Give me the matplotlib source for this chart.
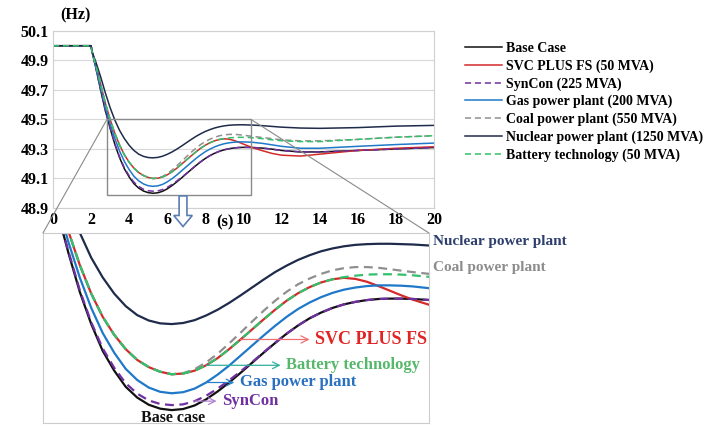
import matplotlib
matplotlib.use("Agg")
import matplotlib.pyplot as plt
from matplotlib.patches import Rectangle, FancyArrow, ConnectionPatch

plt.rcParams['font.family'] = ['Liberation Serif', 'DejaVu Serif']
plt.rcParams['font.weight'] = 'bold'

# time (s): step at 2 s, quarter-second reads through the dip, coarser afterwards
t = [0, 2, 2.05] + [2.25 + 0.25 * i for i in range(34)] + [11, 11.5, 12, 13, 14, 16, 18, 20]

# frequency (Hz)
base = [50.0, 50.0, 49.96,
        49.85, 49.70, 49.56, 49.44, 49.33, 49.24, 49.165, 49.11, 49.065, 49.035, 49.015,
        49.004, 49.00, 49.003, 49.013, 49.03, 49.052, 49.077, 49.104, 49.132, 49.16,
        49.187, 49.213, 49.236, 49.256, 49.272, 49.285, 49.295, 49.302, 49.307, 49.31,
        49.311, 49.311, 49.31,
        49.306, 49.299, 49.29, 49.28, 49.28, 49.29, 49.30, 49.31]
svc = [50.0, 50.0, 49.96,
       49.87, 49.74, 49.61, 49.50, 49.405, 49.325, 49.26, 49.21, 49.17, 49.14, 49.12,
       49.107, 49.10, 49.102, 49.11, 49.125, 49.145, 49.17, 49.197, 49.225, 49.253,
       49.28, 49.305, 49.326, 49.343, 49.356, 49.365, 49.369, 49.366, 49.358, 49.346,
       49.333, 49.32, 49.308,
       49.288, 49.27, 49.258, 49.252, 49.265, 49.29, 49.305, 49.315]
syncon = [50.0, 50.0, 49.96,
          49.85, 49.70, 49.56, 49.445, 49.335, 49.245, 49.172, 49.118, 49.075, 49.046,
          49.027, 49.017, 49.014, 49.016, 49.025, 49.04, 49.06, 49.083, 49.108, 49.134,
          49.161, 49.188, 49.213, 49.236, 49.256, 49.272, 49.285, 49.295, 49.302, 49.307,
          49.31, 49.311, 49.311, 49.31,
          49.306, 49.299, 49.29, 49.28, 49.28, 49.29, 49.30, 49.31]
gas = [50.0, 50.0, 49.96,
       49.86, 49.72, 49.585, 49.47, 49.37, 49.285, 49.215, 49.16, 49.115, 49.084, 49.063,
       49.051, 49.047, 49.05, 49.06, 49.077, 49.099, 49.124, 49.152, 49.18, 49.208,
       49.235, 49.26, 49.282, 49.30, 49.315, 49.327, 49.336, 49.342, 49.346, 49.348,
       49.348, 49.347, 49.345,
       49.338, 49.328, 49.318, 49.305, 49.305, 49.318, 49.33, 49.34]
coal = [50.0, 50.0, 49.96,
        49.87, 49.74, 49.61, 49.50, 49.405, 49.325, 49.26, 49.21, 49.17, 49.14, 49.12,
        49.107, 49.10, 49.103, 49.114, 49.133, 49.157, 49.186, 49.216, 49.247, 49.277,
        49.305, 49.33, 49.351, 49.367, 49.38, 49.39, 49.396, 49.399, 49.399, 49.397,
        49.393, 49.389, 49.385,
        49.378, 49.37, 49.362, 49.355, 49.355, 49.365, 49.38, 49.39]
nuclear = [50.0, 50.0, 49.96,
           49.89, 49.79, 49.68, 49.58, 49.495, 49.425, 49.37, 49.325, 49.29, 49.265, 49.25,
           49.242, 49.24, 49.243, 49.251, 49.264, 49.28, 49.299, 49.32, 49.342, 49.364,
           49.385, 49.403, 49.419, 49.432, 49.443, 49.451, 49.457, 49.461, 49.463, 49.464,
           49.464, 49.463, 49.462,
           49.458, 49.453, 49.448, 49.442, 49.44, 49.445, 49.455, 49.46]
battery = [50.0, 50.0, 49.96,
           49.87, 49.74, 49.61, 49.50, 49.405, 49.325, 49.26, 49.21, 49.17, 49.14, 49.12,
           49.107, 49.10, 49.102, 49.11, 49.125, 49.145, 49.17, 49.197, 49.225, 49.253,
           49.28, 49.305, 49.326, 49.343, 49.356, 49.365, 49.371, 49.375, 49.378, 49.379,
           49.379, 49.378, 49.376,
           49.37, 49.362, 49.356, 49.35, 49.35, 49.365, 49.38, 49.39]

labels = ['Base Case', 'SVC PLUS FS (50 MVA)', 'SynCon (225 MVA)', 'Gas power plant (200 MVA)',
          'Coal power plant (550 MVA)', 'Nuclear power plant (1250 MVA)', 'Battery technology (50 MVA)']
xticks = list(range(0, 21, 2))
yticks = [48.9, 49.1, 49.3, 49.5, 49.7, 49.9, 50.1]

c_base = '#111111'
c_svc = '#d42a2a'
c_syn = '#7030a0'
c_gas = '#1f78c8'
c_coal = '#8f8f8f'
c_nuc = '#1f2b4a'
c_bat = '#33c06a'


def draw(ax, lw):
    ax.plot(t, base, color=c_base, lw=lw, label=labels[0])
    ax.plot(t, svc, color=c_svc, lw=lw, label=labels[1])
    ax.plot(t, syncon, color=c_syn, lw=lw, ls=(0, (4, 2.5)), label=labels[2])
    ax.plot(t, gas, color=c_gas, lw=lw, label=labels[3])
    ax.plot(t, coal, color=c_coal, lw=lw, ls=(0, (4, 2.5)), label=labels[4])
    ax.plot(t, nuclear, color=c_nuc, lw=lw, label=labels[5])
    ax.plot(t, battery, color=c_bat, lw=lw, ls=(0, (4, 2.5)), label=labels[6])


fig = plt.figure(figsize=(7.13, 4.25), dpi=100)

# main chart
ax = fig.add_axes([0.0743, 0.5106, 0.5344, 0.4165])
draw(ax, 1.1)
ax.set_xlim(0, 20)
ax.set_ylim(48.9, 50.1)
ax.set_xticks(xticks)
ax.set_yticks(yticks)
ax.grid(axis='y', color='#d9d9d9', lw=0.8)
ax.set_axisbelow(True)
for s in ax.spines.values():
    s.set_color('#d0d0d0')
ax.tick_params(length=0, labelsize=11.5, pad=3)
ax.text(0.058, 1.09, '(Hz)', transform=ax.transAxes, fontsize=11.5, ha='center', va='center')
ax.text(0.451, -0.08, '(s)', transform=ax.transAxes, fontsize=12, ha='center', va='center')

zoom_x = (2.83, 10.4)
zoom_y = (48.99, 49.5)
ax.add_patch(Rectangle((zoom_x[0], zoom_y[0]), zoom_x[1] - zoom_x[0], zoom_y[1] - zoom_y[0],
                       fill=False, ec='#8a8a8a', lw=1.0, zorder=5))

fig.legend(loc='upper left', bbox_to_anchor=(0.645, 0.915), frameon=False,
           prop={'family': 'Liberation Serif', 'weight': 'bold', 'size': 10},
           handlelength=2.6, handletextpad=0.3, labelspacing=0.32, borderaxespad=0)

# zoomed view
axi = fig.add_axes([0.0603, 0.0047, 0.5414, 0.447])
draw(axi, 1.6)
axi.set_xlim(2.45, 10.85)
axi.set_ylim(48.964, 49.494)
axi.set_xticks([])
axi.set_yticks([])
for s in axi.spines.values():
    s.set_color('#cccccc')

for xa, xb in [(zoom_x[0], 0), (zoom_x[1], 1)]:
    con = ConnectionPatch(xyA=(xa, zoom_y[1]), coordsA=ax.transData,
                          xyB=(xb, 1), coordsB=axi.transAxes, color='#8a8a8a', lw=0.8)
    fig.add_artist(con)

fig.add_artist(FancyArrow(0.2567, 0.539, 0, -0.072, width=0.011, head_width=0.026,
                          head_length=0.026, length_includes_head=True,
                          transform=fig.transFigure, fc='white', ec='#5a7db0', lw=1.2))


# curve labels in the zoomed view, arrow starts on the curve
def tag(txt, i, series, tx, col, acol, size):
    axi.annotate(txt, xy=(t[i], series[i]), xytext=(tx, series[i]),
                 textcoords=('axes fraction', 'data'), ha='left', va='center',
                 color=col, fontsize=size, fontweight='bold',
                 arrowprops=dict(arrowstyle='<-', color=acol, lw=0.9,
                                 shrinkA=2, shrinkB=0, relpos=(0, 0.5)))


tag('SVC PLUS FS', 21, svc, 0.705, '#e02424', '#f07070', 13)
tag('Battery technology', 18, battery, 0.63, '#55b86a', '#30b0a0', 12)
tag('Gas power plant', 18, gas, 0.51, '#2a70c0', '#2a80c8', 12)
tag('SynCon', 17, syncon, 0.464, '#7030a0', '#b080d0', 12)
axi.text(0.337, 0.026, 'Base case', transform=axi.transAxes, ha='center', va='center',
         fontsize=11.5, color='#111111')
axi.text(1.01, 0.958, 'Nuclear power plant', transform=axi.transAxes, ha='left', va='center',
         fontsize=11, color='#2e3f6e', clip_on=False)
axi.text(1.01, 0.816, 'Coal power plant', transform=axi.transAxes, ha='left', va='center',
         fontsize=11, color='#8c8c8c', clip_on=False)

fig.savefig('out.png', dpi=100)
